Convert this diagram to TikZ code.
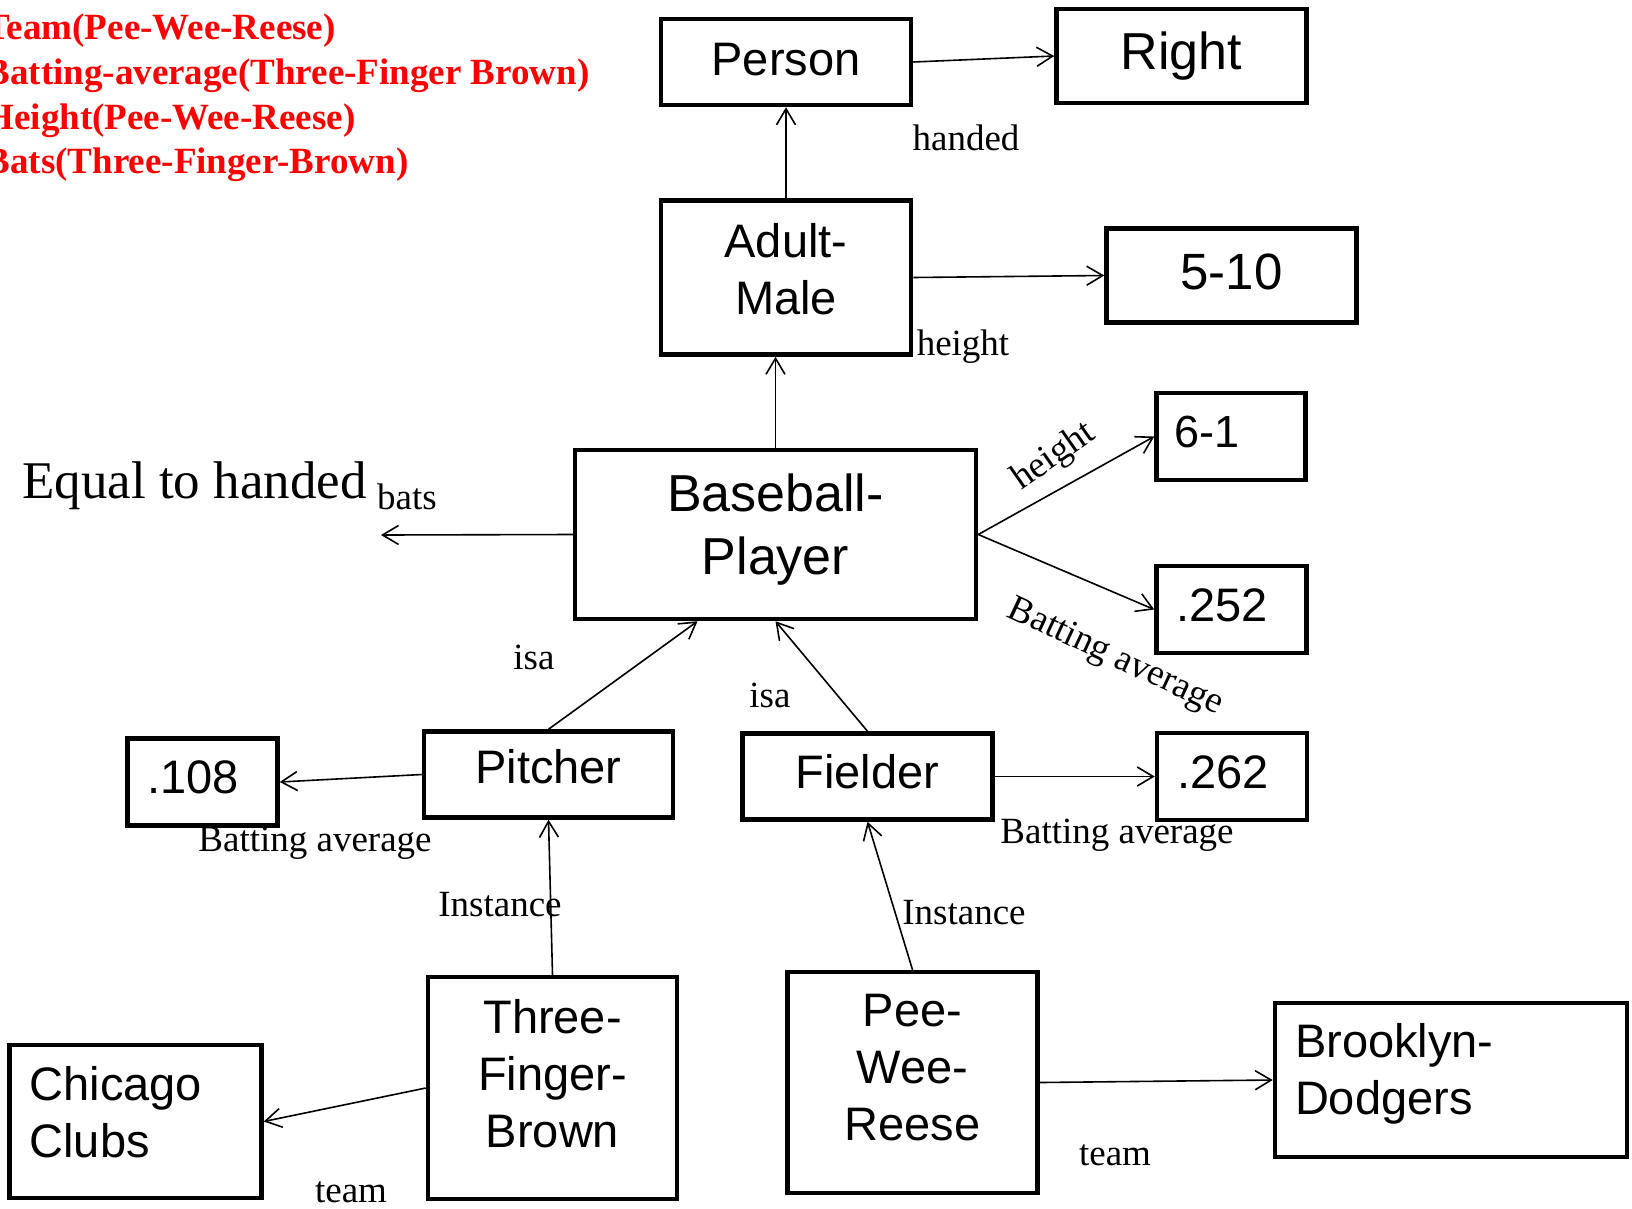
\documentclass[tikz,border=0pt]{standalone}
\usepackage{fontspec}
\setmainfont{Liberation Serif}
\newfontfamily\arialfont{Liberation Sans}
\usetikzlibrary{arrows.meta,positioning}

\begin{document}
\begin{tikzpicture}[
    x=1pt, y=-1pt,
    >={Straight Barb[length=16pt,width=19pt]},
    box/.style={draw, line width=4.5pt, inner sep=0pt, align=center, font=\arialfont\fontsize{47}{57}\selectfont},
    valbox/.style={box, minimum width=150pt, minimum height=87pt, text width=110pt, align=left, text depth=8pt},
    lbl/.style={inner sep=0pt, anchor=base, font=\fontsize{37}{44}\selectfont},
    line/.style={->, line width=1.6pt}
]

\useasboundingbox (0,0) rectangle (1632,1208);

% Slot statements
\node[anchor=north west, align=left, inner sep=0pt, text=red, font=\bfseries\fontsize{37}{44.7}\selectfont] (facts) at (-14.6,14)
    {Team(Pee-Wee-Reese)\\Batting-average(Three-Finger Brown)\\Height(Pee-Wee-Reese)\\Bats(Three-Finger-Brown)};

% Class hierarchy
\node[box, minimum width=401pt, minimum height=169pt, text depth=21pt, font=\arialfont\fontsize{52}{63}\selectfont] (bp) at (775.5,534.5) {Baseball-\\Player};
\node[box, minimum width=250pt, minimum height=154pt, text depth=18pt, above=91pt of bp, xshift=10.5pt] (am) {Adult-\\Male};
\node[box, minimum width=250pt, minimum height=86pt, text depth=6pt, above=91pt of am] (person) {Person};
\node[box, minimum width=250pt, minimum height=94pt, right=141pt of person, yshift=6pt, font=\arialfont\fontsize{52}{63}\selectfont] (right) {Right};
\node[box, minimum width=250pt, minimum height=94pt, text depth=8pt, right=191pt of am, yshift=2pt, font=\arialfont\fontsize{51}{60}\selectfont] (five) {5-10};
\node[valbox, minimum width=149pt, text width=113pt, text depth=10pt, right=176pt of bp, yshift=98pt, font=\arialfont\fontsize{45}{54}\selectfont] (sixone) {6-1};
\node[valbox, right=176pt of bp, yshift=-75pt] (avgbp) {.252};

% Subclasses
\node[box, minimum width=249pt, minimum height=86pt, text depth=16pt, below=108pt of bp, xshift=-227pt] (pitcher) {Pitcher};
\node[box, minimum width=250pt, minimum height=86pt, text depth=10pt, right=65pt of pitcher, yshift=-2pt] (fielder) {Fielder};
\node[valbox, text depth=10pt, left=142pt of pitcher, yshift=-7.5pt] (avgpitcher) {.108};
\node[valbox, right=160pt of fielder] (avgfielder) {.262};

% Instances
\node[box, minimum width=249pt, minimum height=222pt, text depth=30pt, below=155pt of pitcher, xshift=4pt] (tfb) {Three-\\Finger-\\Brown};
\node[box, minimum width=250pt, minimum height=221pt, text depth=30pt, below=148pt of fielder, xshift=45pt] (pwr) {Pee-\\Wee-\\Reese};
\node[box, minimum width=252pt, minimum height=153pt, text width=212pt, align=left, text depth=77pt, left=162pt of tfb, yshift=-33.5pt] (chicago) {Chicago\\Clubs};
\node[box, minimum width=352pt, minimum height=154pt, text width=312pt, align=left, text depth=79pt, right=233pt of pwr, yshift=2.5pt] (brooklyn) {Brooklyn-\\Dodgers};

% Links
\coordinate (batsend) at (381,535);
\draw[line] (person.east) -- (right.west);
\draw[line] (am.north) -- (person.south);
\draw[line] (am.east) -- (five.west);
\draw[line] (bp.north) -- (bp.north |- am.south);
\draw[line] (bp.west) -- (batsend);
\draw[line] (bp.east) -- (sixone.west);
\draw[line] (bp.east) -- (avgbp.west);
\draw[line] (pitcher.north) -- ([xshift=-78pt]bp.south);
\draw[line] (fielder.north) -- (bp.south);
\draw[line] (pitcher.west) -- (avgpitcher.east);
\draw[line] (fielder.east) -- (avgfielder.west);
\draw[line] (tfb.north) -- (pitcher.south);
\draw[line] (pwr.north) -- (fielder.south);
\draw[line] (tfb.west) -- (chicago.east);
\draw[line] (pwr.east) -- (brooklyn.west);

% Link labels
\node[lbl] (lhanded) at (966,150) {handed};
\node[lbl] (lheight) at (963,355) {height};
\node[lbl, font=\fontsize{53}{60}\selectfont] (lequal) at (194.5,498) {Equal to handed};
\node[lbl] (lbats) at (407,509) {bats};
\node[lbl, anchor=center, rotate=35] (lheightbp) at (1054,457) {height};
\node[lbl, anchor=center, rotate=-25] (lavgbp) at (1115,658) {Batting average};
\node[lbl] (lisap) at (534,669) {isa};
\node[lbl] (lisaf) at (770,707) {isa};
\node[lbl] (lavgp) at (315,851) {Batting average};
\node[lbl] (lavgf) at (1117,843) {Batting average};
\node[lbl] (linstp) at (500,916) {Instance};
\node[lbl] (linstf) at (964,924) {Instance};
\node[lbl] (lteamc) at (351,1202) {team};
\node[lbl] (lteamb) at (1115,1165) {team};

\end{tikzpicture}
\end{document}
